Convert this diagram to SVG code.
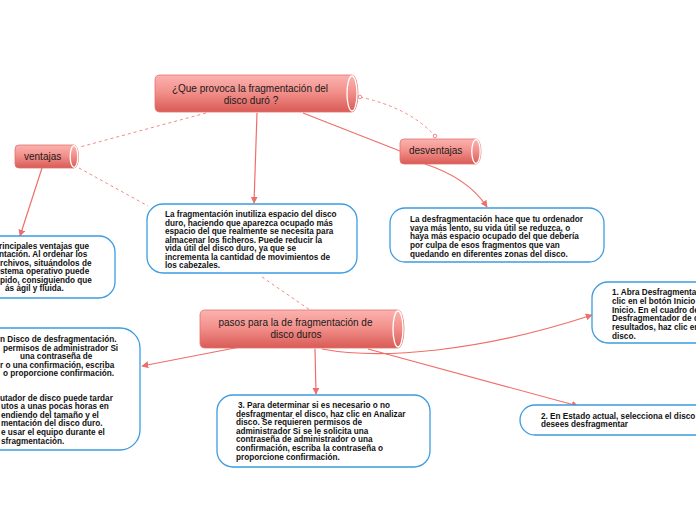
<svg xmlns="http://www.w3.org/2000/svg" width="696" height="520" viewBox="0 0 696 520">
<style>
.node{fill:url(#ng);stroke:#e2726d;stroke-width:0.8}
.cap{fill:none;stroke:#ffffff;stroke-width:1.3}
.lbl{font-family:"Liberation Sans",Arial,sans-serif;font-size:10px;fill:#1a1a1a}
.box{fill:#ffffff;stroke:#3d9be0;stroke-width:1.3}
.bt{font-family:"Liberation Sans",Arial,sans-serif;font-size:8.2px;font-weight:bold;fill:#111111}
.con{fill:none;stroke:#f06e6a;stroke-width:1.2}
.dash{fill:none;stroke:#f28a86;stroke-width:1;stroke-dasharray:3 3}
.dot{fill:#ffffff;stroke:#f28a86;stroke-width:1}
</style>
<defs>
<linearGradient id="ng" x1="0" y1="0" x2="0" y2="1">
<stop offset="0" stop-color="#fbb3b0"/>
<stop offset="0.45" stop-color="#f3918c"/>
<stop offset="1" stop-color="#d95b56"/>
</linearGradient>
<marker id="ar" viewBox="0 0 10 10" refX="9" refY="5" markerWidth="7" markerHeight="7" markerUnits="userSpaceOnUse" orient="auto">
<path d="M0 0 L10 5 L0 10 Z" fill="#f06e6a"/>
</marker>
</defs>

<g id="connectors">
<path class="dash" d="M206 113 L80 147"/>
<path class="dash" d="M79 168 L148 206"/>
<path class="dash" d="M360 97 Q410 108 435 136"/>
<circle class="dot" cx="360" cy="97" r="1.8"/>
<circle class="dot" cx="435" cy="136" r="1.8"/>
<path class="dash" d="M262 277 L310 310"/>
<path class="con" d="M257 113 L254 203" marker-end="url(#ar)"/>
<path class="con" d="M303 113 L400 151"/>
<path class="con" d="M425 164 Q468 178 487 207" marker-end="url(#ar)"/>
<path class="con" d="M42 168 L20 236" marker-end="url(#ar)"/>
<path class="con" d="M240 347 L142 366" marker-end="url(#ar)"/>
<path class="con" d="M315 349 L316 394" marker-end="url(#ar)"/>
<path class="con" d="M368 349 L578 406" marker-end="url(#ar)"/>
<path class="con" d="M322 349 C380 360 480 352 592 315" marker-end="url(#ar)"/>
</g>

<g id="main">
<path class="node" d="M160 75 H352 A6 18.5 0 0 1 352 112 H160 Q155 112 155 107 V80 Q155 75 160 75 Z"/>
<ellipse class="cap" cx="352" cy="93.5" rx="5" ry="17.5"/>
<text class="lbl" x="250" y="92" text-anchor="middle">¿Que provoca la fragmentación del</text>
<text class="lbl" x="251" y="103.5" text-anchor="middle">disco duró ?</text>
</g>

<g id="ventajas">
<path class="node" d="M19 145 H74 A4.5 11.5 0 0 1 74 168 H19 Q15 168 15 164 V149 Q15 145 19 145 Z"/>
<ellipse class="cap" cx="74" cy="156.5" rx="3.8" ry="10.8"/>
<text class="lbl" x="24" y="160">ventajas</text>
</g>

<g id="desventajas">
<path class="node" d="M404 139 H476 A5 12.5 0 0 1 476 164 H404 Q400 164 400 160 V143 Q400 139 404 139 Z"/>
<ellipse class="cap" cx="476" cy="151.5" rx="4.2" ry="11.8"/>
<text class="lbl" x="409" y="154">desventajas</text>
</g>

<g id="pasos">
<path class="node" d="M205 310 H398 A6 19 0 0 1 398 348 H205 Q200 348 200 343 V315 Q200 310 205 310 Z"/>
<ellipse class="cap" cx="398" cy="329" rx="5" ry="18"/>
<text class="lbl" x="295.5" y="325.5" text-anchor="middle">pasos para la de fragmentación de</text>
<text class="lbl" x="296" y="337.5" text-anchor="middle">disco duros</text>
</g>

<g id="ventajas-texto">
<rect class="box" x="-100" y="236" width="215" height="62" rx="16"/>
<text class="bt" x="-1" y="248.5">rincipales ventajas que</text>
<text class="bt" x="-1" y="257">ntación. Al ordenar los</text>
<text class="bt" x="0" y="265.5">rchivos, situándolos de</text>
<text class="bt" x="0" y="274">stema operativo puede</text>
<text class="bt" x="0" y="282.5">pido, consiguiendo que</text>
<text class="bt" x="5" y="291">ás ágil y fluida.</text>
</g>

<g id="fragmentacion">
<rect class="box" x="147" y="204" width="210" height="69" rx="16"/>
<text class="bt" x="165" y="217">La fragmentación inutiliza espacio del disco</text>
<text class="bt" x="165" y="225.5">duro, haciendo que aparezca ocupado más</text>
<text class="bt" x="165" y="234">espacio del que realmente se necesita para</text>
<text class="bt" x="165" y="242.5">almacenar los ficheros. Puede reducir la</text>
<text class="bt" x="165" y="251">vida útil del disco duro, ya que se</text>
<text class="bt" x="165" y="259.5">incrementa la cantidad de movimientos de</text>
<text class="bt" x="165" y="268">los cabezales.</text>
</g>

<g id="desventajas-texto">
<rect class="box" x="390" y="208" width="214" height="54" rx="15"/>
<text class="bt" x="410" y="222">La desfragmentación hace que tu ordenador</text>
<text class="bt" x="410" y="230.7">vaya más lento, su vida útil se reduzca, o</text>
<text class="bt" x="410" y="239.4">haya más espacio ocupado del que debería</text>
<text class="bt" x="410" y="248.1">por culpa de esos fragmentos que van</text>
<text class="bt" x="410" y="256.8">quedando en diferentes zonas del disco.</text>
</g>

<g id="paso1">
<rect class="box" x="592" y="282" width="150" height="61" rx="16"/>
<text class="bt" x="612" y="295">1. Abra Desfragmenta</text>
<text class="bt" x="612" y="303.8">clic en el botón Inicio</text>
<text class="bt" x="612" y="312.6">Inicio. En el cuadro de</text>
<text class="bt" x="612" y="321.4">Desfragmentador de d</text>
<text class="bt" x="612" y="330.2">resultados, haz clic en</text>
<text class="bt" x="612" y="339">disco.</text>
</g>

<g id="paso-izq">
<rect class="box" x="-100" y="328" width="240" height="122" rx="20"/>
<text class="bt" x="0" y="342">n Disco de desfragmentación.</text>
<text class="bt" x="3" y="350.6">permisos de administrador Si</text>
<text class="bt" x="20" y="359.2">una contraseña de</text>
<text class="bt" x="0" y="367.8">r o una confirmación, escriba</text>
<text class="bt" x="3" y="376.4">o proporcione confirmación.</text>
<text class="bt" x="0" y="400.5">utador de disco puede tardar</text>
<text class="bt" x="1" y="409.1">utos a unas pocas horas en</text>
<text class="bt" x="1" y="417.7">endiendo del tamaño y el</text>
<text class="bt" x="1" y="426.3">mentación del disco duro.</text>
<text class="bt" x="1" y="434.9">e usar el equipo durante el</text>
<text class="bt" x="1" y="443.5">sfragmentación.</text>
</g>

<g id="paso3">
<rect class="box" x="217" y="395" width="213" height="72" rx="16"/>
<text class="bt" x="238" y="408">3. Para determinar si es necesario o no</text>
<text class="bt" x="236" y="416.6">desfragmentar el disco, haz clic en Analizar</text>
<text class="bt" x="236" y="425.2">disco. Se requieren permisos de</text>
<text class="bt" x="236" y="433.8">administrador Si se le solicita una</text>
<text class="bt" x="236" y="442.4">contraseña de administrador o una</text>
<text class="bt" x="236" y="451">confirmación, escriba la contraseña o</text>
<text class="bt" x="236" y="459.6">proporcione confirmación.</text>
</g>

<g id="paso2">
<rect class="box" x="520" y="405" width="200" height="30" rx="15"/>
<text class="bt" x="541" y="418.5">2. En Estado actual, selecciona el disco</text>
<text class="bt" x="541" y="427.2">desees desfragmentar</text>
</g>
</svg>
